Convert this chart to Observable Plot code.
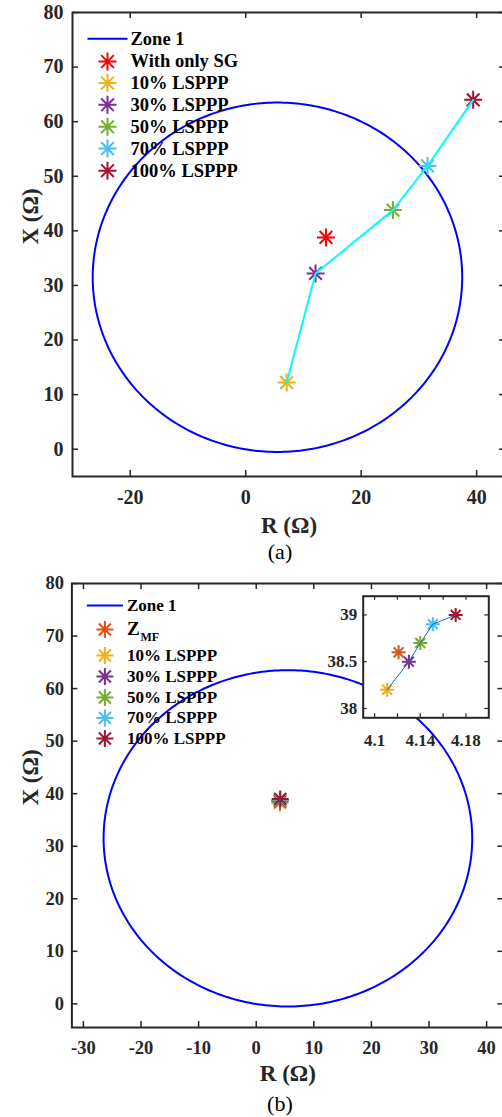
<!DOCTYPE html>
<html>
<head>
<meta charset="utf-8">
<script src="https://cdn.jsdelivr.net/npm/d3@7"></script>
<script src="https://cdn.jsdelivr.net/npm/@observablehq/plot@0.6"></script>
<style>
  body { margin: 0; background: #fff; }
  #fig { position: relative; width: 502px; height: 1117px; overflow: hidden; background: #fff; }
  #fig svg { position: absolute; overflow: visible; }
</style>
</head>
<body>
<div id="fig"></div>
<script>
// Zone 1 mho circle (R, X in ohms)
const zoneCenterR = 5.5;
const zoneCenterX = 31.5;
const zoneRadius = 32;

// Axis ticks
const yTicks = [0, 10, 20, 30, 40, 50, 60, 70, 80];
const xTicksA = [-20, 0, 20, 40];
const xTicksB = [-30, -20, -10, 0, 10, 20, 30, 40];
const insetTicksR = [4.1, 4.12, 4.14, 4.16, 4.18];
const insetLabelsR = [4.1, 4.14, 4.18];
const insetTicksX = [38, 38.5, 39];

// (a) apparent impedance seen by the relay
const seriesA = ["With only SG", "10% LSPPP", "30% LSPPP", "50% LSPPP", "70% LSPPP", "100% LSPPP"];
const colorsA = ["#FF0000", "#EDB120", "#7E2F8E", "#77AC30", "#4DBEEE", "#A2142F"];
const resistA = [13.9, 7.1, 12.1, 25.5, 31.5, 39.4];
const reactA = [38.8, 12.2, 32.2, 43.8, 51.9, 64.0];

// (b) impedance with the MF scheme
const seriesB = ["Z", "10% LSPPP", "30% LSPPP", "50% LSPPP", "70% LSPPP", "100% LSPPP"];
const subscriptB = "MF";
const colorsB = ["#D95319", "#EDB120", "#7E2F8E", "#77AC30", "#4DBEEE", "#A2142F"];
const resistB = [4.121, 4.111, 4.130, 4.140, 4.151, 4.171];
const reactB = [38.6, 38.2, 38.5, 38.7, 38.9, 39.0];

const axisColor = "#262626";
const serif = "'Liberation Serif', 'Times New Roman', serif";

const rowsA = seriesA.map((s, i) => ({s, r: resistA[i], x: reactA[i], c: colorsA[i]}));
const rowsB = seriesB.map((s, i) => ({s, r: resistB[i], x: reactB[i], c: colorsB[i]}));

const zone = d3.range(0, 361, 1).map(a => {
  const t = a * Math.PI / 180;
  return {r: zoneCenterR + zoneRadius * Math.cos(t), x: zoneCenterX + zoneRadius * Math.sin(t)};
});

// MATLAB-style eight-armed asterisk marker
const asterisk = {
  draw(ctx, size) {
    const r = Math.sqrt(size / Math.PI);
    const d = r * Math.SQRT1_2;
    ctx.moveTo(-r, 0); ctx.lineTo(r, 0);
    ctx.moveTo(0, -r); ctx.lineTo(0, r);
    ctx.moveTo(-d, -d); ctx.lineTo(d, d);
    ctx.moveTo(-d, d); ctx.lineTo(d, -d);
  }
};
// horizontal stroke used as the line swatch in the legend
const dash = {
  draw(ctx, size) {
    const r = Math.sqrt(size / Math.PI);
    ctx.moveTo(-r, 0); ctx.lineTo(r, 0);
  }
};

// inward tick marks on all four sides of the box
function boxTicks(xt, yt, plotW, plotH, len, sw) {
  const o = {stroke: axisColor, strokeWidth: sw};
  return [
    Plot.tickX(xt, {x: d => d, insetTop: plotH - len, ...o}),
    Plot.tickX(xt, {x: d => d, insetBottom: plotH - len, ...o}),
    Plot.tickY(yt, {y: d => d, insetRight: plotW - len, ...o}),
    Plot.tickY(yt, {y: d => d, insetLeft: plotW - len, ...o})
  ];
}

function legendMarks(rows, L) {
  const marks = [
    Plot.dot([0], {frameAnchor: "top-left", dx: L.mark, dy: L.zoneDy, symbol: dash, r: L.lineR,
      stroke: "#0000FF", strokeWidth: 2, fill: "none"}),
    Plot.text(["Zone 1"], {text: d => d, frameAnchor: "top-left", dx: L.text, dy: L.zoneDy,
      textAnchor: "start", lineAnchor: "middle", fontSize: L.fontSize, fill: "#000"})
  ];
  rows.forEach((d, i) => {
    const dy = L.rowDy[i];
    marks.push(Plot.dot([d], {frameAnchor: "top-left", dx: L.mark, dy, symbol: asterisk, r: L.r,
      stroke: d.c, strokeWidth: 2, fill: "none"}));
    marks.push(Plot.text([d], {text: "s", frameAnchor: "top-left", dx: L.text, dy: dy + (L.textShift?.[i] ?? 0),
      textAnchor: "start", lineAnchor: "middle", fontSize: (L.textSize?.[i] ?? L.fontSize), fill: "#000"}));
  });
  return marks;
}

function panel(cfg) {
  const plotW = cfg.width - cfg.marginLeft - cfg.marginRight;
  const plotH = cfg.height - cfg.marginTop - cfg.marginBottom;
  const fmt = d => String(d);
  return Plot.plot({
    width: cfg.width,
    height: cfg.height,
    marginLeft: cfg.marginLeft,
    marginRight: cfg.marginRight,
    marginTop: cfg.marginTop,
    marginBottom: cfg.marginBottom,
    x: {domain: cfg.xDomain},
    y: {domain: cfg.yDomain},
    color: {type: "identity"},
    style: {fontFamily: serif, fontWeight: "bold", color: axisColor, background: "transparent", overflow: "visible"},
    marks: [
      Plot.line(zone, {x: "r", y: "x", stroke: "#0000FF", strokeWidth: 2}),
      ...cfg.marks,
      ...boxTicks(cfg.xTicks, yTicks, plotW, plotH, 6, 1.5),
      Plot.axisX(cfg.xTicks, {anchor: "bottom", tickSize: 0, tickPadding: cfg.padX, tickFormat: fmt,
        fontSize: cfg.tickFont, label: null}),
      Plot.axisY(yTicks, {anchor: "left", tickSize: 0, tickPadding: cfg.padY, tickFormat: fmt,
        fontSize: cfg.tickFont, label: null}),
      Plot.frame({stroke: axisColor, strokeWidth: 2}),
      Plot.text(["R (Ω)"], {text: d => d, frameAnchor: "bottom", dy: cfg.titleDy, lineAnchor: "middle",
        fontSize: 23, fill: axisColor}),
      Plot.text(["X (Ω)"], {text: d => d, frameAnchor: "left", dx: cfg.yTitleDx, rotate: -90,
        lineAnchor: "middle", fontSize: 23, fill: axisColor}),
      Plot.text([cfg.caption], {text: d => d, frameAnchor: "bottom", dx: cfg.capDx, dy: cfg.capDy,
        lineAnchor: "middle", fontSize: 22, fontWeight: "normal", fill: "#000"}),
      ...cfg.legend
    ]
  });
}

const fig = document.getElementById("fig");

// (a)
const svgA = panel({
  width: 502, height: 565, marginLeft: 72, marginRight: -3, marginTop: 12, marginBottom: 89,
  xDomain: [-30, 45], yDomain: [-5, 80], xTicks: xTicksA,
  tickFont: 20, padX: 13, padY: 9, titleDy: 49, yTitleDx: -42, caption: "(a)", capDx: -9, capDy: 75,
  marks: [
    Plot.dot(rowsA, {x: "r", y: "x", stroke: "c", symbol: asterisk, r: 9, strokeWidth: 2, fill: "none"}),
    Plot.line(rowsA.slice(1), {x: "r", y: "x", stroke: "#00FFFF", strokeWidth: 2})
  ],
  legend: legendMarks(rowsA, {mark: 35, text: 58, zoneDy: 26.3, lineR: 20, r: 9, fontSize: 18.5,
    rowDy: [49, 70.5, 92.3, 114.3, 136.1, 158.2]})
});
svgA.style.left = "0px";
svgA.style.top = "0px";
fig.appendChild(svgA);

// (b)
const legendB = legendMarks(rowsB, {mark: 33, text: 55, zoneDy: 22, lineR: 18, r: 8.5, fontSize: 17,
  rowDy: [46, 72, 93, 114, 134.5, 155], textShift: [-1, 0, 0, 0, 0, 0], textSize: [19]});
legendB.push(Plot.text([subscriptB], {text: d => d, frameAnchor: "top-left", dx: 68.5, dy: 54,
  textAnchor: "start", lineAnchor: "middle", fontSize: 12, fill: "#000"}));

const svgB = panel({
  width: 502, height: 552, marginLeft: 71.4, marginRight: -1.4, marginTop: 18, marginBottom: 90,
  xDomain: [-32, 43], yDomain: [-4.5, 80], xTicks: xTicksB,
  tickFont: 18.5, padX: 13, padY: 8, titleDy: 46, yTitleDx: -41, caption: "(b)", capDx: -8, capDy: 76,
  marks: [
    Plot.dot(rowsB, {x: "r", y: "x", stroke: "c", symbol: asterisk, r: 8.5, strokeWidth: 2, fill: "none"}),
    Plot.line(rowsB.slice(1), {x: "r", y: "x", stroke: "#0072BD", strokeWidth: 1})
  ],
  legend: legendB
});
svgB.style.left = "0px";
svgB.style.top = "565px";
fig.appendChild(svgB);

// magnified view of the clustered points in (b)
const inW = 180, inH = 150;
const inM = {left: 44.7, right: 9.7, top: 5.7, bottom: 22.7};
const inPlotW = inW - inM.left - inM.right;
const inPlotH = inH - inM.top - inM.bottom;
const svgInset = Plot.plot({
  width: inW, height: inH,
  marginLeft: inM.left, marginRight: inM.right, marginTop: inM.top, marginBottom: inM.bottom,
  x: {domain: [4.09, 4.2]},
  y: {domain: [37.9, 39.2]},
  color: {type: "identity"},
  style: {fontFamily: serif, fontWeight: "bold", color: axisColor, background: "transparent", overflow: "visible"},
  marks: [
    Plot.frame({fill: "#fff", stroke: "none"}),
    Plot.dot(rowsB, {x: "r", y: "x", stroke: "c", symbol: asterisk, r: 7, strokeWidth: 2, fill: "none"}),
    Plot.line(rowsB.slice(1), {x: "r", y: "x", stroke: "#0072BD", strokeWidth: 1}),
    ...(() => {
      const o = {stroke: axisColor, strokeWidth: 1.2};
      return [
        Plot.tickX(insetTicksR, {x: d => d, insetTop: inPlotH - 4, ...o}),
        Plot.tickX(insetTicksR, {x: d => d, insetBottom: inPlotH - 4, ...o}),
        Plot.tickY(insetTicksX, {y: d => d, insetRight: inPlotW - 4, ...o}),
        Plot.tickY(insetTicksX, {y: d => d, insetLeft: inPlotW - 4, ...o})
      ];
    })(),
    Plot.axisX(insetLabelsR, {anchor: "bottom", tickSize: 0, tickPadding: 16, tickFormat: d => String(d),
      fontSize: 17, label: null}),
    Plot.axisY(insetTicksX, {anchor: "left", tickSize: 0, tickPadding: 6, tickFormat: d => String(d),
      fontSize: 17, label: null}),
    Plot.frame({stroke: axisColor, strokeWidth: 2})
  ]
});
svgInset.style.left = "318px";
svgInset.style.top = "590px";
fig.appendChild(svgInset);
</script>
</body>
</html>
